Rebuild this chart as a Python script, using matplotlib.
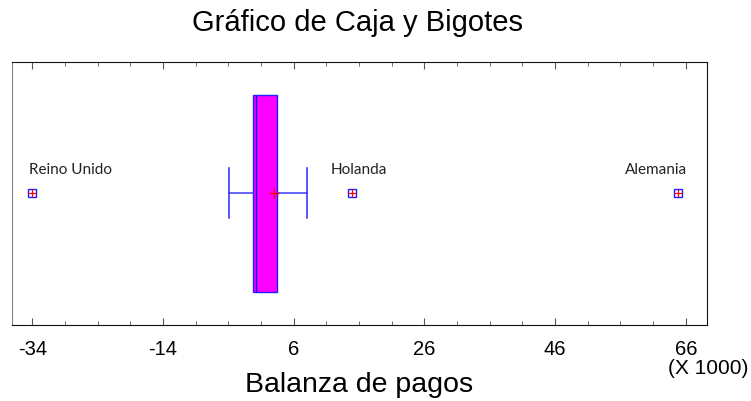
import numpy as np
import matplotlib.pyplot as plt
from matplotlib.ticker import FixedLocator

# Resumen de la distribución (miles)
q1 = -0.2
mediana = 0.3
q3 = 3.5
bigote_inf = -3.9
bigote_sup = 8.1
media = 3.0

# Valores atípicos y sus etiquetas
paises = ["Reino Unido", "Holanda", "Alemania"]
atipicos = [-34.0, 14.9, 64.8]

ticks_mayores = np.arange(-34, 67, 20)
ticks_menores = np.arange(-34, 70, 5)

plt.rcParams["axes.unicode_minus"] = False

fig = plt.figure(figsize=(7.51, 4.02), dpi=100)
ax = fig.add_axes([0.016, 0.19, 0.925, 0.653])

stats = [dict(med=mediana, q1=q1, q3=q3, whislo=bigote_inf, whishi=bigote_sup,
              mean=media, fliers=[])]
ax.bxp(stats, positions=[0.5], widths=0.75, capwidths=0.19,
       orientation="horizontal", patch_artist=True, showmeans=True,
       boxprops=dict(facecolor="#ff00ff", edgecolor="#2020ff", linewidth=1.0),
       medianprops=dict(color="#0000ff", linewidth=1.0),
       whiskerprops=dict(color="#3a3aff", linewidth=1.1),
       capprops=dict(color="#2a2aff", linewidth=1.1),
       meanprops=dict(marker="+", markeredgecolor="red", markersize=7,
                      markeredgewidth=1.0))

# Atípicos: cuadrado azul con cruz roja
y_at = np.full(len(atipicos), 0.5)
ax.plot(atipicos, y_at, "s", mfc="none", mec="#2020ff", ms=6, mew=1.0, ls="none")
ax.plot(atipicos, y_at, "+", mec="red", ms=6, mew=0.9, ls="none")

desplaz = [(-2.7, 12.5), (-15, 12.5), (-38, 12.5)]
for nombre, x, (dx, dy) in zip(paises, atipicos, desplaz):
    ax.annotate(nombre, (x, 0.5), xytext=(dx, dy), textcoords="offset points",
                fontsize=11, family="Lato", color="#222222",
                ha="left", va="bottom")

ax.set_xlim(-37.1, 69.2)
ax.set_ylim(0, 1)
ax.set_yticks([])
ax.xaxis.set_major_locator(FixedLocator(ticks_mayores))
ax.xaxis.set_minor_locator(FixedLocator(ticks_menores))
ax.tick_params(axis="x", which="both", direction="in", top=True, bottom=True,
               color="#555555")
ax.tick_params(axis="x", which="major", length=5, labelsize=14.5, pad=10)
ax.tick_params(axis="x", which="minor", length=3)
for lbl in ax.get_xticklabels():
    lbl.set_family("Liberation Sans")
for lado in ["top", "bottom", "right"]:
    ax.spines[lado].set_color("#111111")
ax.spines["left"].set_color("#888888")

ax.set_xlabel("Balanza de pagos", fontsize=20.5, family="Liberation Sans",
              labelpad=10)
fig.text(0.997, 0.06, "(X 1000)", fontsize=15, family="Liberation Sans",
         ha="right", va="bottom")
fig.suptitle("Gráfico de Caja y Bigotes", fontsize=21, family="Liberation Sans",
             x=0.476, y=0.978)

fig.savefig("out.png", dpi=100)
